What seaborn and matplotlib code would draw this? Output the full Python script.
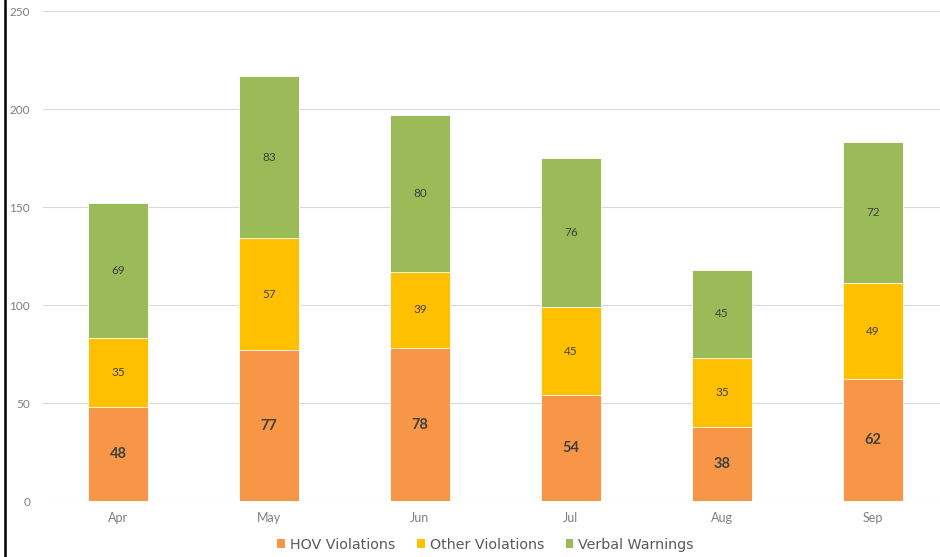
import matplotlib
matplotlib.use("Agg")
import matplotlib.pyplot as plt
from matplotlib.lines import Line2D
from matplotlib.patches import Patch
import numpy as np
import pandas as pd
import seaborn as sns

months = ["Apr", "May", "Jun", "Jul", "Aug", "Sep"]
hov = [48, 77, 78, 54, 38, 62]
other = [35, 57, 39, 45, 35, 49]
verbal = [69, 83, 80, 76, 45, 72]

series = ["HOV Violations", "Other Violations", "Verbal Warnings"]
colors = ["#F79646", "#FFC000", "#9BBB59"]

sns.set_theme(style="white")
plt.rcParams["font.family"] = ["Lato", "DejaVu Sans"]

df = pd.DataFrame({"month": months, "hov": hov, "other": other, "verbal": verbal})
df["c1"] = df["hov"]
df["c2"] = df["hov"] + df["other"]
df["c3"] = df["c2"] + df["verbal"]

fig = plt.figure(figsize=(9.4, 5.57), dpi=100)
ax = fig.add_axes([42.5 / 940, 56 / 557, 906 / 940, 490 / 557])

# stacked look: draw the cumulative totals from tallest to shortest
for col, color in zip(["c3", "c2", "c1"], colors[::-1]):
    sns.barplot(data=df, x="month", y=col, color=color, width=0.4,
                edgecolor="white", linewidth=0.6, saturation=1, ax=ax, zorder=3)

for i in range(len(months)):
    ax.text(i, hov[i] / 2, str(hov[i]), ha="center", va="center",
            fontsize=10.5, fontweight="bold", color="#404040", zorder=5)
    ax.text(i, hov[i] + other[i] / 2, str(other[i]), ha="center", va="center",
            fontsize=8.5, color="#404040", zorder=5)
    ax.text(i, hov[i] + other[i] + verbal[i] / 2, str(verbal[i]), ha="center",
            va="center", fontsize=8.5, color="#404040", zorder=5)

ax.set_xlim(-0.5, 5.5)
ax.set_ylim(0, 250)
ax.set_yticks(np.arange(0, 251, 50))
ax.yaxis.grid(True, color="#D9D9D9", linewidth=0.8)
ax.set_axisbelow(True)
for s in ax.spines.values():
    s.set_visible(False)
ax.tick_params(axis="y", length=0, pad=9, labelsize=8.5, labelcolor="#7F7F7F")
ax.tick_params(axis="x", length=0, pad=8, labelsize=9, labelcolor="#7F7F7F")
ax.set_xlabel("")
ax.set_ylabel("")

handles = [Patch(facecolor=c, edgecolor="none", label=l) for c, l in zip(colors, series)]
fig.legend(handles=handles, loc="center", bbox_to_anchor=(0.5165, 0.022), ncol=3,
           frameon=False, handlelength=0.55, handleheight=0.55, handletextpad=0.35,
           columnspacing=1.5, prop={"family": "DejaVu Sans", "size": 10.3},
           labelcolor="#595959")

fig.add_artist(Line2D([4.5 / 940, 4.5 / 940], [0, 1], color="black", linewidth=1.8,
                      transform=fig.transFigure))

fig.savefig("out.png", dpi=100)
